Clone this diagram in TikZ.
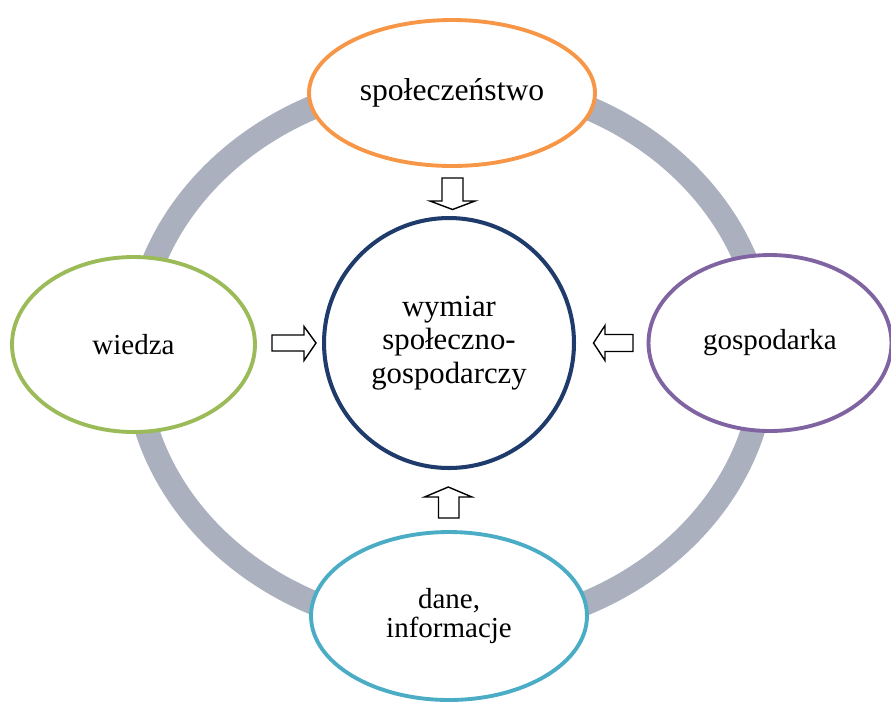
\documentclass[tikz,border=0pt]{standalone}
\usepackage{fontspec}
\setmainfont{Liberation Serif}
\usetikzlibrary{shapes.geometric}
\definecolor{ringgrey}{RGB}{171,176,190}
\definecolor{sorange}{RGB}{247,150,70}
\definecolor{sgreen}{RGB}{155,187,89}
\definecolor{spurple}{RGB}{128,100,162}
\definecolor{steal}{RGB}{75,172,198}
\definecolor{snavy}{RGB}{31,59,107}
\begin{document}
\begin{tikzpicture}[x=0.02cm, y=-0.02cm,
    outer/.style={ellipse, draw, line width=2.2pt, fill=white, align=center, inner sep=0pt,
      font=\fontsize{16.5}{17}\selectfont},
    blockarr/.style={draw=black, line width=0.8pt, fill=white, line join=miter}]
    \useasboundingbox (0,0) rectangle (891,704);
    % ring behind the ellipses
    \draw[ringgrey, line width=0.48cm] (450,355) ellipse [x radius=6.3cm, y radius=5.5cm];
    \node[outer, draw=sorange, minimum width=5.72cm, minimum height=2.92cm,
      font=\fontsize{18}{21}\selectfont] (spol) at (452,93) {społeczeństwo};
    \node[outer, draw=sgreen, minimum width=4.86cm, minimum height=3.5cm] (wied) at (133.5,344.5) {wiedza};
    \node[outer, draw=spurple, minimum width=4.86cm, minimum height=3.52cm] (gosp) at (770,343) {gospodarka};
    \node[outer, draw=steal, minimum width=5.52cm, minimum height=3.36cm] (dane) at (449,616) {dane,\\informacje};
    \node[circle, draw=snavy, line width=2.3pt, fill=white, minimum size=5cm, align=center,
      font=\fontsize{17.5}{19}\selectfont] (wym) at (449,343) {wymiar\\społeczno-\\gospodarczy};
    % block arrows pointing at the centre
    \draw[blockarr] (442,178) -- (463,178) -- (463,201) -- (475,201) -- (452.5,209.5)
      -- (430,201) -- (442,201) -- cycle;
    \draw[blockarr] (272,335) -- (304,335) -- (304,326.5) -- (316,343) -- (304,360.5)
      -- (304,351) -- (272,351) -- cycle;
    \draw[blockarr] (633,334.5) -- (605,334.5) -- (605,325.5) -- (593.5,343) -- (605,360.5)
      -- (605,351.5) -- (633,351.5) -- cycle;
    \draw[blockarr] (438.5,518) -- (438.5,497) -- (424.5,497) -- (448.3,487) -- (472,497)
      -- (459,497) -- (459,518) -- cycle;
\end{tikzpicture}
\end{document}
